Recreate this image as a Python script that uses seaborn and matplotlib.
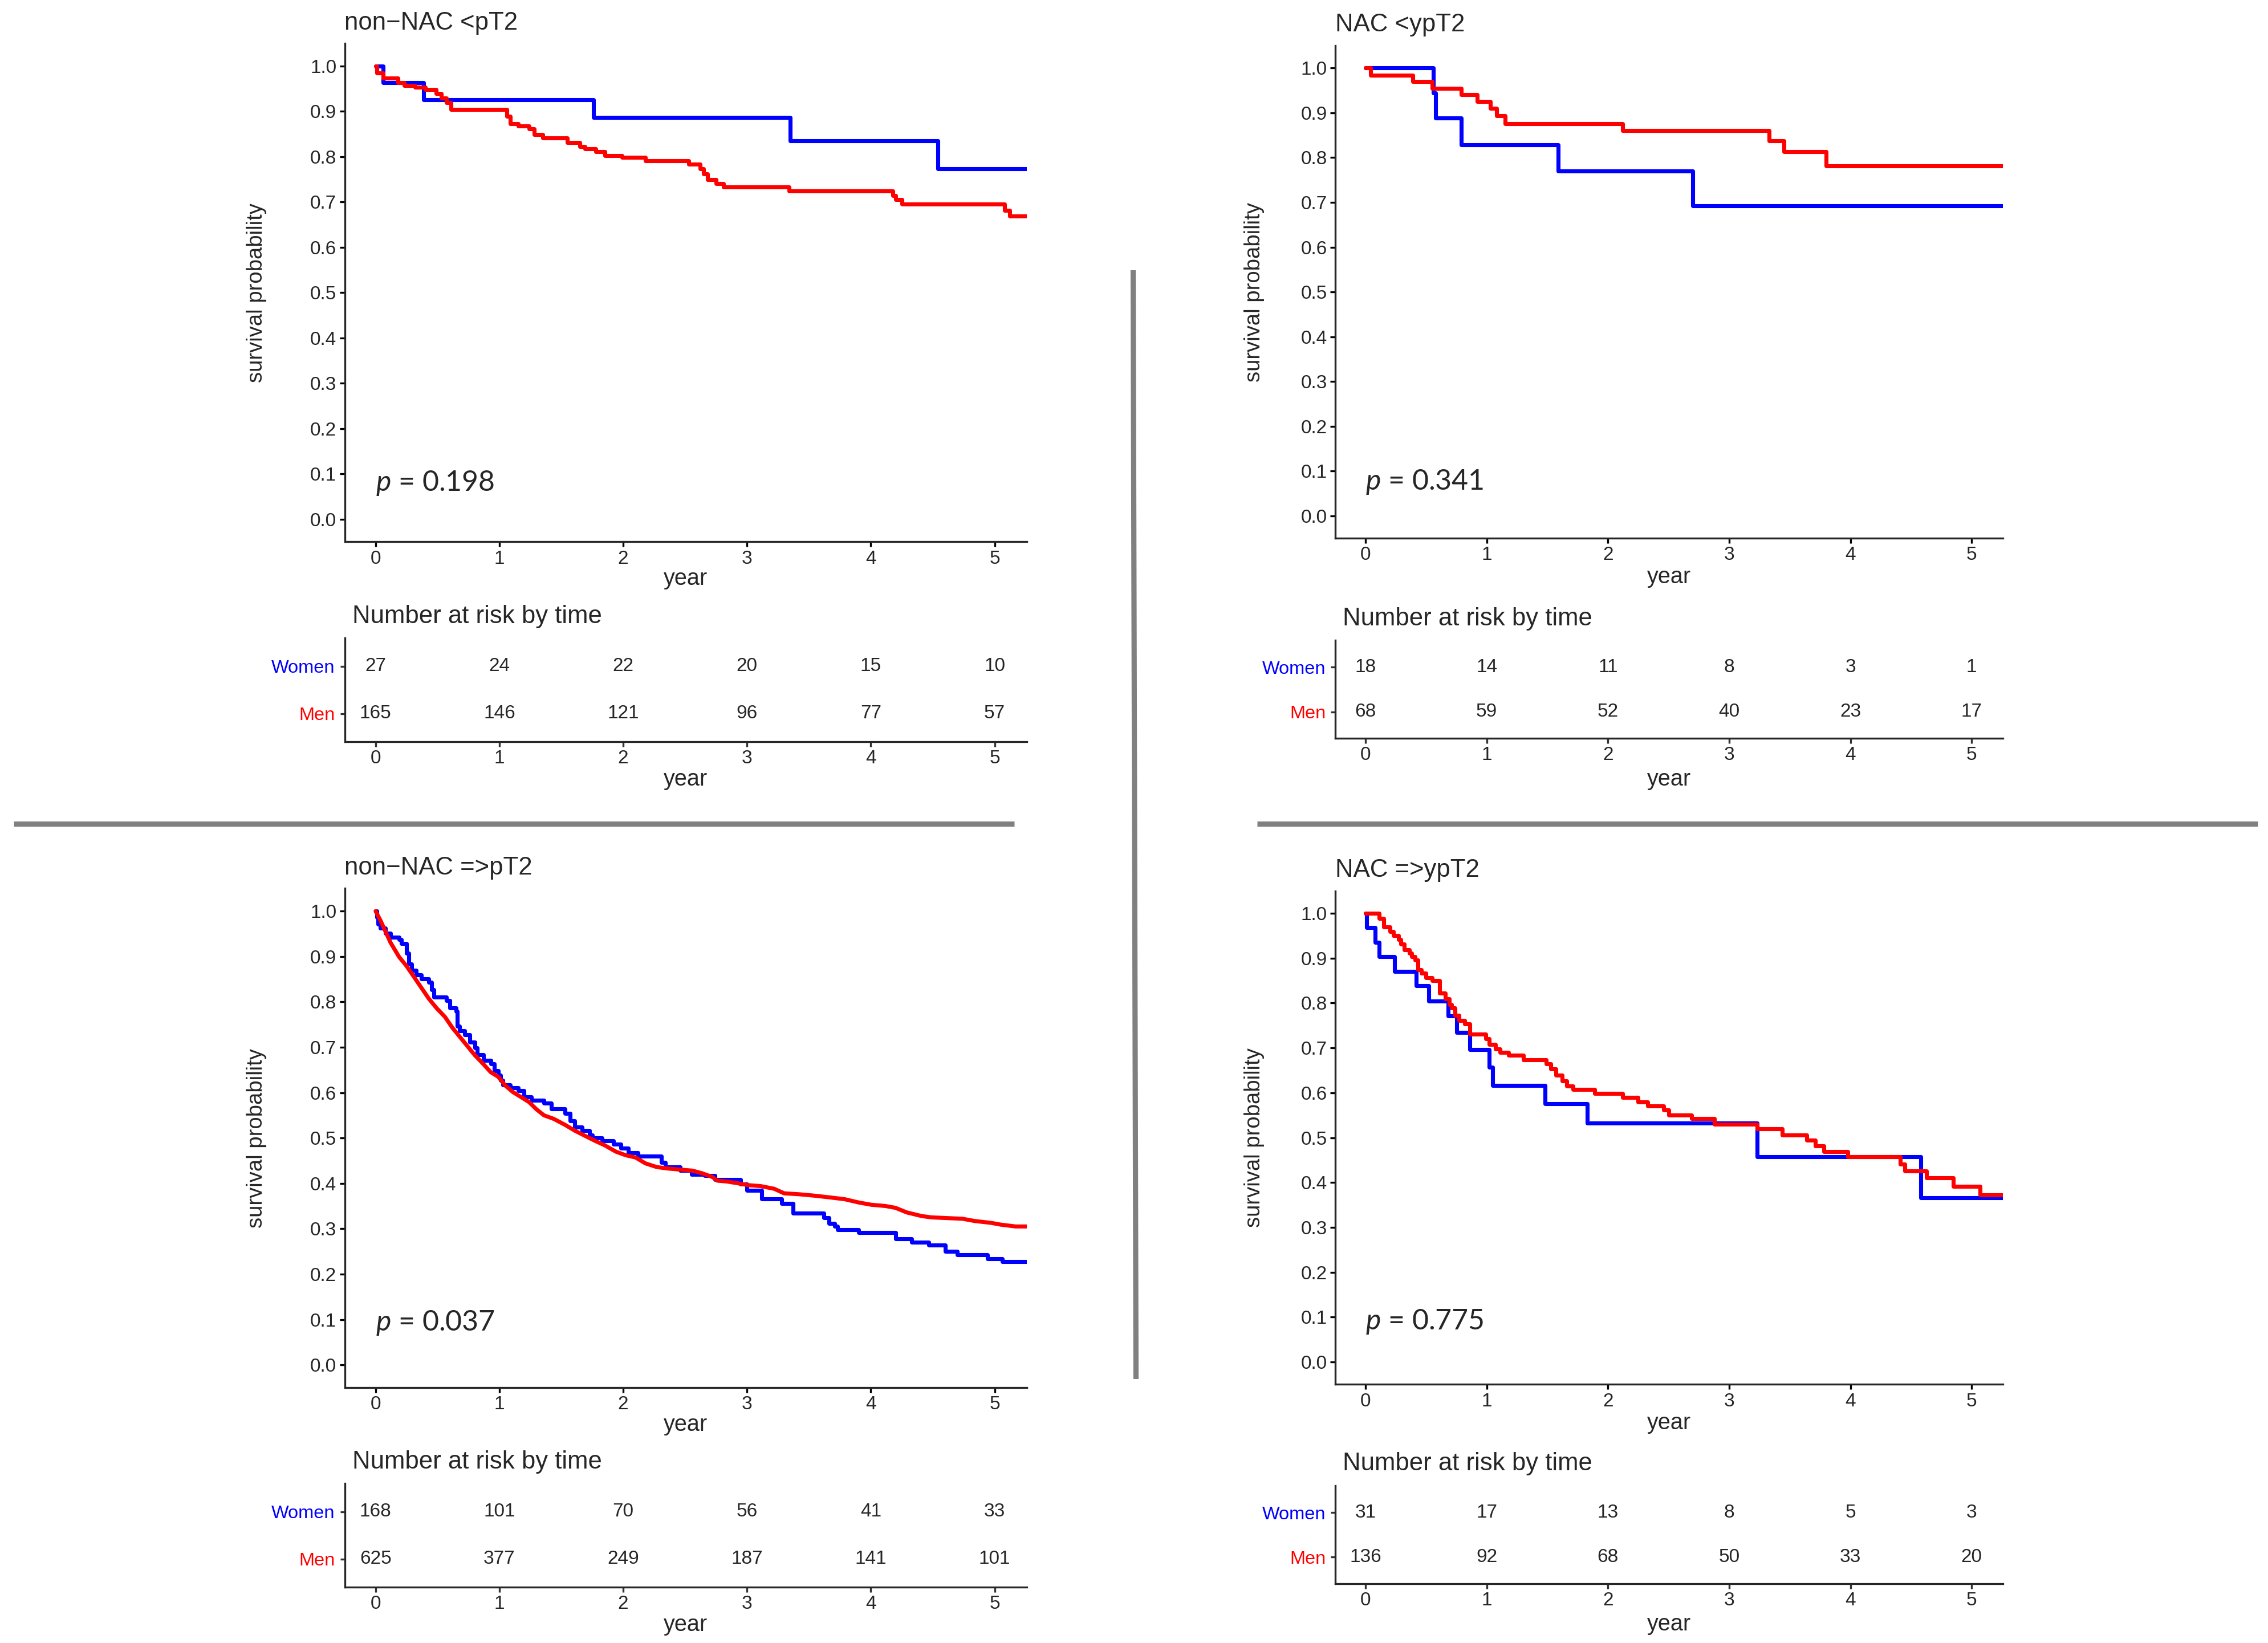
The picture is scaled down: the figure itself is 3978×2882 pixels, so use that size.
import numpy as np
import pandas as pd
import matplotlib
matplotlib.use("Agg")
import matplotlib.pyplot as plt
from matplotlib.lines import Line2D
from matplotlib.transforms import ScaledTranslation
import seaborn as sns

# ---- data (years, survival probability) ----
risk_years = [0, 1, 2, 3, 4, 5]

tl_women_t = [0, 0.06, 0.39, 1.76, 3.35, 4.54, 5.3]
tl_women_s = [1.0, 0.963, 0.926, 0.887, 0.835, 0.774, 0.774]
tl_men_t = [0, 0.01, 0.06, 0.18, 0.23, 0.32, 0.40, 0.49, 0.53, 0.57, 0.61, 1.06, 1.09,
            1.15, 1.24, 1.28, 1.35, 1.55, 1.65, 1.69, 1.78, 1.85, 1.99, 2.18, 2.53, 2.62,
            2.65, 2.68, 2.75, 2.81, 3.34, 4.18, 4.20, 4.25, 5.08, 5.12, 5.3]
tl_men_s = [1.0, 0.985, 0.973, 0.963, 0.957, 0.953, 0.948, 0.940, 0.930, 0.919, 0.905, 0.889,
            0.873, 0.868, 0.861, 0.849, 0.841, 0.831, 0.823, 0.817, 0.811, 0.803, 0.799, 0.791,
            0.783, 0.773, 0.762, 0.750, 0.741, 0.733, 0.725, 0.715, 0.706, 0.695, 0.682, 0.669, 0.669]
tl_risk_women = [27, 24, 22, 20, 15, 10]
tl_risk_men = [165, 146, 121, 96, 77, 57]

tr_women_t = [0, 0.56, 0.58, 0.79, 1.59, 2.70, 5.3]
tr_women_s = [1.0, 0.944, 0.889, 0.829, 0.770, 0.693, 0.693]
tr_men_t = [0, 0.04, 0.39, 0.55, 0.79, 0.92, 1.03, 1.08, 1.15, 2.12, 3.33, 3.45, 3.80, 5.3]
tr_men_s = [1.0, 0.984, 0.970, 0.955, 0.941, 0.925, 0.910, 0.894, 0.876, 0.860, 0.838, 0.813, 0.782, 0.782]
tr_risk_women = [18, 14, 11, 8, 3, 1]
tr_risk_men = [68, 59, 52, 40, 23, 17]

bl_women_t = [0, 0.01, 0.02, 0.04, 0.08, 0.12, 0.19, 0.21, 0.25, 0.27, 0.29, 0.33, 0.37, 0.43,
              0.45, 0.47, 0.57, 0.60, 0.65, 0.66, 0.68, 0.72, 0.76, 0.80, 0.82, 0.87, 0.93, 0.96,
              0.99, 1.01, 1.03, 1.09, 1.15, 1.20, 1.26, 1.36, 1.42, 1.53, 1.57, 1.61, 1.67, 1.73,
              1.75, 1.83, 1.92, 1.98, 2.04, 2.12, 2.31, 2.34, 2.46, 2.55, 2.66, 2.74, 2.95, 3.00,
              3.12, 3.28, 3.37, 3.62, 3.66, 3.71, 3.73, 3.90, 4.20, 4.33, 4.47, 4.60, 4.70, 4.94,
              5.06, 5.3]
bl_women_s = [1.0, 0.987, 0.971, 0.963, 0.951, 0.942, 0.937, 0.929, 0.907, 0.883, 0.869, 0.859,
              0.851, 0.843, 0.827, 0.811, 0.803, 0.787, 0.779, 0.747, 0.737, 0.727, 0.711, 0.699,
              0.683, 0.671, 0.663, 0.649, 0.639, 0.627, 0.617, 0.611, 0.604, 0.591, 0.583, 0.577,
              0.564, 0.554, 0.538, 0.524, 0.516, 0.506, 0.500, 0.494, 0.486, 0.478, 0.468, 0.460,
              0.446, 0.436, 0.428, 0.420, 0.417, 0.408, 0.398, 0.385, 0.366, 0.356, 0.334, 0.324,
              0.312, 0.306, 0.298, 0.292, 0.278, 0.270, 0.264, 0.250, 0.242, 0.234, 0.228, 0.228]
bl_men_t = [0, 0.04, 0.08, 0.12, 0.19, 0.25, 0.31, 0.37, 0.43, 0.49, 0.56, 0.62, 0.68, 0.74,
            0.80, 0.87, 0.93, 0.99, 1.05, 1.11, 1.17, 1.24, 1.30, 1.36, 1.44, 1.53, 1.61, 1.69,
            1.77, 1.85, 1.94, 2.02, 2.10, 2.18, 2.27, 2.35, 2.56, 2.64, 2.72, 2.76, 2.84, 2.93,
            3.01, 3.11, 3.22, 3.30, 3.42, 3.54, 3.67, 3.79, 3.90, 4.00, 4.12, 4.20, 4.29, 4.41,
            4.49, 4.74, 4.84, 4.97, 5.05, 5.17, 5.3]
bl_men_s = [1.0, 0.979, 0.955, 0.931, 0.899, 0.879, 0.855, 0.831, 0.807, 0.787, 0.767, 0.743,
            0.723, 0.703, 0.683, 0.663, 0.645, 0.635, 0.615, 0.601, 0.591, 0.579, 0.563, 0.550,
            0.542, 0.529, 0.516, 0.505, 0.494, 0.484, 0.470, 0.462, 0.457, 0.444, 0.436, 0.433,
            0.428, 0.422, 0.414, 0.406, 0.404, 0.400, 0.396, 0.394, 0.388, 0.378, 0.376, 0.373,
            0.369, 0.365, 0.358, 0.353, 0.350, 0.346, 0.336, 0.328, 0.325, 0.322, 0.317, 0.313,
            0.309, 0.305, 0.305]
bl_risk_women = [168, 101, 70, 56, 41, 33]
bl_risk_men = [625, 377, 249, 187, 141, 101]

br_women_t = [0, 0.01, 0.08, 0.11, 0.24, 0.42, 0.52, 0.68, 0.75, 0.86, 1.02, 1.05, 1.48, 1.83,
              3.23, 4.58, 5.3]
br_women_s = [1.0, 0.968, 0.935, 0.904, 0.870, 0.838, 0.804, 0.771, 0.735, 0.696, 0.657, 0.616,
              0.575, 0.533, 0.458, 0.366, 0.366]
br_men_t = [0, 0.11, 0.15, 0.20, 0.23, 0.27, 0.29, 0.32, 0.36, 0.38, 0.41, 0.43, 0.46, 0.50,
            0.55, 0.61, 0.66, 0.69, 0.71, 0.74, 0.77, 0.82, 0.86, 0.99, 1.02, 1.07, 1.11, 1.18,
            1.30, 1.49, 1.53, 1.57, 1.62, 1.66, 1.71, 1.89, 2.12, 2.25, 2.33, 2.46, 2.50, 2.69,
            2.88, 3.23, 3.44, 3.64, 3.71, 3.78, 3.98, 4.41, 4.45, 4.63, 4.85, 5.07, 5.3]
br_men_s = [1.0, 0.988, 0.969, 0.959, 0.950, 0.941, 0.931, 0.919, 0.911, 0.904, 0.896, 0.874,
            0.866, 0.856, 0.850, 0.822, 0.810, 0.797, 0.789, 0.773, 0.761, 0.753, 0.730, 0.720,
            0.708, 0.698, 0.690, 0.684, 0.673, 0.665, 0.653, 0.639, 0.627, 0.615, 0.607, 0.599,
            0.589, 0.580, 0.571, 0.561, 0.550, 0.542, 0.530, 0.520, 0.506, 0.494, 0.481, 0.469,
            0.457, 0.441, 0.426, 0.411, 0.392, 0.372, 0.372]
br_risk_women = [31, 17, 13, 8, 5, 3]
br_risk_men = [136, 92, 68, 50, 33, 20]

titles = ["non\u2212NAC <pT2", "NAC <ypT2", "non\u2212NAC =>pT2", "NAC =>ypT2"]
pvals = ["0.198", "0.341", "0.037", "0.775"]

colors = {"Women": "#0000FF", "Men": "#FF0000"}

# ---- layout (pixel boxes on the 3978x2882 canvas) ----
W, H, DPI = 3978, 2882, 300
panels = [
    dict(km=(604.5, 76.3, 1801, 950.4), risk=(604.5, 1119, 1801, 1301), ylab=155, xlab=65, rxlab=66, py=0.063,
         women=(tl_women_t, tl_women_s), men=(tl_men_t, tl_men_s), rw=tl_risk_women, rm=tl_risk_men, men_step=True),
    dict(km=(2342, 80, 3513.4, 944.3), risk=(2342, 1123.3, 3513.4, 1295), ylab=142, xlab=68, rxlab=72, py=0.058,
         women=(tr_women_t, tr_women_s), men=(tr_men_t, tr_men_s), rw=tr_risk_women, rm=tr_risk_men, men_step=True),
    dict(km=(604.5, 1558.4, 1801, 2433.9), risk=(604.5, 2602.3, 1801, 2783.7), ylab=155, xlab=65, rxlab=66, py=0.076,
         women=(bl_women_t, bl_women_s), men=(bl_men_t, bl_men_s), rw=bl_risk_women, rm=bl_risk_men, men_step=False),
    dict(km=(2342, 1562.6, 3513.4, 2428.4), risk=(2342, 2606, 3513.4, 2777.7), ylab=142, xlab=68, rxlab=71, py=0.072,
         women=(br_women_t, br_women_s), men=(br_men_t, br_men_s), rw=br_risk_women, rm=br_risk_men, men_step=True),
]

sns.set_theme(style="ticks")
plt.rcParams["font.family"] = ["Liberation Sans", "DejaVu Sans"]
plt.rcParams["mathtext.fontset"] = "custom"
plt.rcParams["mathtext.it"] = "Lato:italic"
plt.rcParams["mathtext.rm"] = "Lato"
plt.rcParams["axes.linewidth"] = 0.8

fig = plt.figure(figsize=(W / DPI, H / DPI), dpi=DPI)


def rect(box):
    x0, y0, x1, y1 = box
    return [x0 / W, 1 - y1 / H, (x1 - x0) / W, (y1 - y0) / H]


def shifted(ax, dx, dy):
    return ax.transAxes + ScaledTranslation(dx / DPI, dy / DPI, fig.dpi_scale_trans)


for i, p in enumerate(panels):
    # survival curves
    ax = fig.add_axes(rect(p["km"]))
    for sex in ["Women", "Men"]:
        t, s = p["women"] if sex == "Women" else p["men"]
        df = pd.DataFrame({"time": t, "surv": s})
        ds = "steps-post" if (sex == "Women" or p["men_step"]) else "default"
        sns.lineplot(data=df, x="time", y="surv", ax=ax, color=colors[sex], linewidth=1.7,
                     drawstyle=ds, estimator=None, sort=False, legend=False)
    ax.set_xlim(-0.25, 5.26)
    ax.set_ylim(-0.05, 1.05)
    ax.set_xticks(risk_years)
    yt = np.round(np.arange(0, 1.01, 0.1), 1)
    ax.set_yticks(yt)
    ax.set_yticklabels([f"{v:.1f}" for v in yt])
    ax.tick_params(length=2.2, width=0.8, pad=1.2, labelsize=8, color="black")
    sns.despine(ax=ax)
    ax.set_ylabel("survival probability", fontsize=9.2)
    ax.yaxis.label.set_verticalalignment("center")
    ax.yaxis.set_label_coords(0, 0.5, transform=shifted(ax, -p["ylab"], 0))
    ax.set_xlabel("year", fontsize=9.5)
    ax.xaxis.label.set_verticalalignment("center")
    ax.xaxis.set_label_coords(0.5, 0, transform=shifted(ax, 0, -p["xlab"]))
    ax.text(0, 1, titles[i], transform=shifted(ax, 0, 36), ha="left", va="center", fontsize=10.5)
    ax.text(0, p["py"], "$p$ = " + pvals[i], family="Lato", fontsize=12, ha="left", va="baseline")

    # number at risk table
    rx = fig.add_axes(rect(p["risk"]))
    rx.set_xlim(-0.25, 5.26)
    rx.set_ylim(0.41, 2.60)
    for yr, nw, nm in zip(risk_years, p["rw"], p["rm"]):
        rx.text(yr, 2, str(nw), ha="center", va="center", fontsize=8)
        rx.text(yr, 1, str(nm), ha="center", va="center", fontsize=8)
    rx.set_xticks(risk_years)
    rx.set_yticks([2, 1])
    rx.set_yticklabels(["Women", "Men"])
    for lab, sex in zip(rx.get_yticklabels(), ["Women", "Men"]):
        lab.set_color(colors[sex])
    rx.tick_params(axis="x", length=2.2, width=0.8, pad=1.2, labelsize=8, color="#333333")
    rx.tick_params(axis="y", length=2.0, width=0.8, pad=2.0, labelsize=7.8, color="#333333")
    sns.despine(ax=rx)
    rx.set_xlabel("year", fontsize=9.5)
    rx.xaxis.label.set_verticalalignment("center")
    rx.xaxis.set_label_coords(0.5, 0, transform=shifted(rx, 0, -p["rxlab"]))
    rx.text(0, 1, "Number at risk by time", transform=shifted(rx, 13, 38), ha="left", va="center",
            fontsize=10.5)

# grey separators between the four panels
for (x0, y0, x1, y1) in [(24, 1444.5, 1779, 1444.5), (2205, 1444.5, 3960, 1444.5),
                         (1987.5, 474, 1992.5, 2419)]:
    fig.add_artist(Line2D([x0 / W, x1 / W], [1 - y0 / H, 1 - y1 / H], transform=fig.transFigure,
                          color="#808080", linewidth=2.2, solid_capstyle="butt"))

fig.savefig("out.png", dpi=DPI)
